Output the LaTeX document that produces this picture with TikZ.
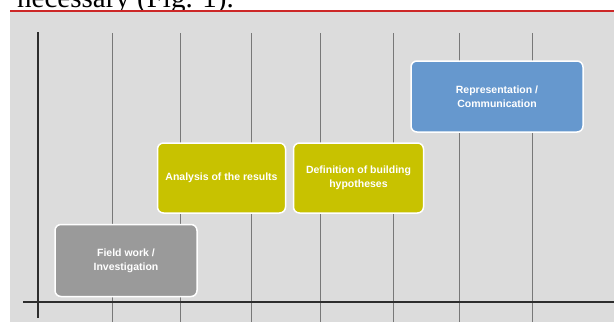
\documentclass[tikz,border=0pt]{standalone}
\usepackage{fontspec}
\setmainfont{Liberation Serif}
\newfontfamily\boxfont{Liberation Sans}
\definecolor{panelgray}{RGB}{220,220,220}
\definecolor{gridgray}{RGB}{120,120,120}
\definecolor{axisdark}{RGB}{45,45,45}
\definecolor{redline}{RGB}{205,40,40}
\definecolor{fieldgray}{RGB}{154,154,154}
\definecolor{yelbox}{RGB}{200,194,0}
\definecolor{bluebox}{RGB}{102,152,206}
\begin{document}
\begin{tikzpicture}[x=1pt,y=-1pt,
  stagebox/.style={draw=white, line width=1.5pt, rounded corners=6pt, inner sep=0pt,
    text=white, align=center, font=\boxfont\bfseries\fontsize{10.5}{14}\selectfont},
  gridline/.style={draw=gridgray, line width=0.6pt},
  axisline/.style={draw=axisdark, line width=1.8pt}]
\useasboundingbox (0,0) rectangle (614,322);
\clip (0,0) rectangle (614,322);
\fill[white] (0,0) rectangle (614,322);
% top cut-off text
\node[anchor=base west, inner sep=0pt, font=\fontsize{29}{32}\selectfont] (toptext) at (17,7) {necessary (Fig. 1).};
% red rule and panel
\fill[panelgray] (10,12) rectangle (614,322);
\coordinate (rl) at (10,11);
\coordinate (rr) at (614,11);
\draw[redline, line width=1.3pt] (rl) -- (rr);
% grid lines
\foreach \gx in {112,180,251,320,393,459,532}{
  \coordinate (gt\gx) at (\gx,33);
  \coordinate (gb\gx) at (\gx,322);
  \draw[gridline] (gt\gx) -- (gb\gx);
}
% axes
\coordinate (vtop) at (38,32);
\coordinate (vbot) at (38,318);
\coordinate (hl) at (23,302);
\coordinate (hr) at (614,302);
\draw[axisline] (vtop) -- (vbot);
\draw[axisline] (hl) -- (hr);
% boxes
\node[stagebox, fill=fieldgray, minimum width=142pt, minimum height=72pt] (field) at (126,260.5) {Field work /\\Investigation};
\node[stagebox, fill=yelbox, minimum width=128pt, minimum height=70pt] (analysis) at (221.5,178) {Analysis of the results};
\node[stagebox, fill=yelbox, minimum width=130pt, minimum height=70pt] (definition) at (358.5,178) {Definition of building\\hypotheses};
\node[stagebox, fill=bluebox, minimum width=172pt, minimum height=71pt] (repr) at (497,96.5) {Representation /\\Communication};
\end{tikzpicture}
\end{document}
